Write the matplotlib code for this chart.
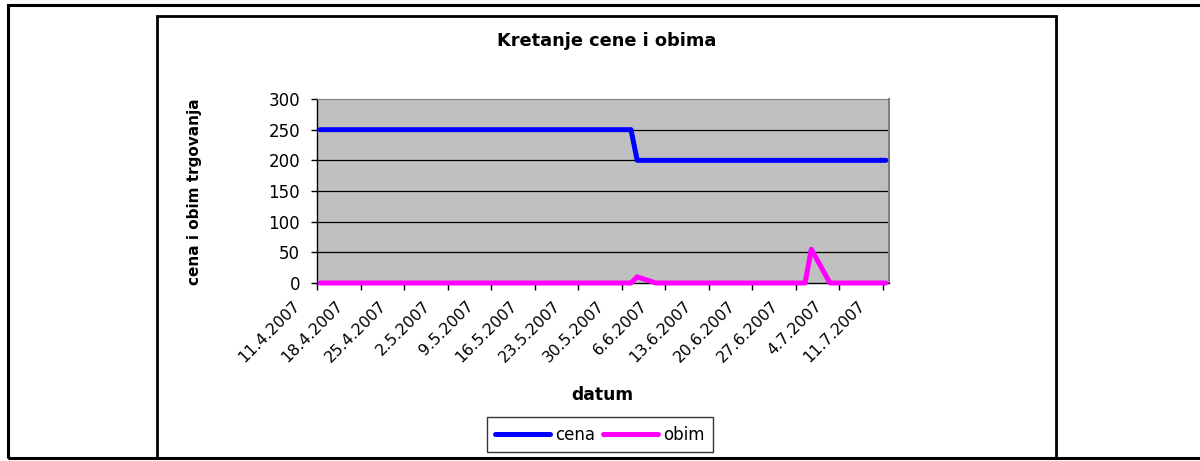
import datetime as dt
import matplotlib
matplotlib.use("Agg")
import matplotlib.pyplot as plt
from matplotlib.patches import Rectangle
from matplotlib.transforms import ScaledTranslation

# podaci (procitano sa slike)
cena_datumi = ["11.4.2007", "31.5.2007", "1.6.2007", "11.7.2007"]
cena = [250, 250, 200, 200]
obim_datumi = ["11.4.2007", "31.5.2007", "1.6.2007", "4.6.2007",
               "28.6.2007", "29.6.2007", "2.7.2007", "11.7.2007"]
obim = [0, 0, 10, 0, 0, 55, 0, 0]
tick_datumi = ["11.4.2007", "18.4.2007", "25.4.2007", "2.5.2007", "9.5.2007",
               "16.5.2007", "23.5.2007", "30.5.2007", "6.6.2007", "13.6.2007",
               "20.6.2007", "27.6.2007", "4.7.2007", "11.7.2007"]
y_ticks = [0, 50, 100, 150, 200, 250, 300]

def d(s):
    return dt.datetime.strptime(s, "%d.%m.%Y")

# tacke su na sredini dana (Excel datumska osa)
half = dt.timedelta(hours=12)
cx = [d(s) + half for s in cena_datumi]
ox = [d(s) + half for s in obim_datumi]
tx = [d(s) for s in tick_datumi]

plt.rcParams['font.family'] = ['DejaVu Sans']

W, H = 1200, 461
fig = plt.figure(figsize=(W/100, H/100), dpi=100)

# okviri
fig.patches.append(Rectangle((8/W, 3/H), 1.2, 453/H, transform=fig.transFigure,
                             fill=False, lw=2.2, ec='black'))
fig.patches.append(Rectangle((157/W, 3/H), (1056-157)/W, (458-16)/H, transform=fig.transFigure,
                             fill=False, lw=2.0, ec='black'))

L, R, T, B = 317, 889, 99, 283
ax = fig.add_axes([L/W, 1-B/H, (R-L)/W, (B-T)/H])
ax.set_facecolor('#C0C0C0')

ax.plot(cx, cena, color='#0000FF', lw=3.6, solid_capstyle='round', label='cena', zorder=3)
ax.plot(ox, obim, color='#FF00FF', lw=3.6, solid_capstyle='round', label='obim', zorder=3,
        clip_on=False)

ax.set_ylim(0, 300)
ax.set_xlim(d("11.4.2007"), d("12.7.2007"))
ax.set_yticks(y_ticks)
ax.set_yticklabels([str(v) for v in y_ticks], fontsize=12)
ax.tick_params(axis='y', length=4.3, width=1, pad=8, direction='out')
for v in y_ticks[1:-1]:
    ax.axhline(v, color='black', lw=0.9, zorder=1)

ax.set_xticks(tx)
ax.set_xticklabels([])
ax.tick_params(axis='x', length=5, width=1, direction='out')
off = ScaledTranslation(-25/100, -15/100, fig.dpi_scale_trans)
for t, s in zip(tx, tick_datumi):
    ax.text(t, 0, s, transform=ax.get_xaxis_transform() + off, rotation=45,
            ha='right', va='top', rotation_mode='anchor', fontsize=11.3)

for sp in ['left', 'bottom']:
    ax.spines[sp].set_color('black')
    ax.spines[sp].set_linewidth(1)
ax.spines['top'].set_color('#808080')
ax.spines['right'].set_color('#808080')
ax.spines['right'].set_linewidth(1.5)

fig.text(607/W, 1-41/H, 'Kretanje cene i obima', ha='center', va='center',
         fontsize=12.8, fontweight='bold')
fig.text(195/W, 1-192/H, 'cena i obim trgovanja', ha='center', va='center',
         rotation=90, fontsize=11, fontweight='bold')
fig.text(602/W, 1-395/H, 'datum', ha='center', va='center', fontsize=12.3, fontweight='bold')

leg = fig.legend(loc='center', bbox_to_anchor=(600/W, 1-434.5/H), ncol=2, fontsize=12,
                 frameon=True, fancybox=False, edgecolor='black', handlelength=3.3,
                 handletextpad=0.3, columnspacing=0.5, borderpad=0.5)
leg.get_frame().set_linewidth(1)

fig.savefig('out.png', dpi=100)
